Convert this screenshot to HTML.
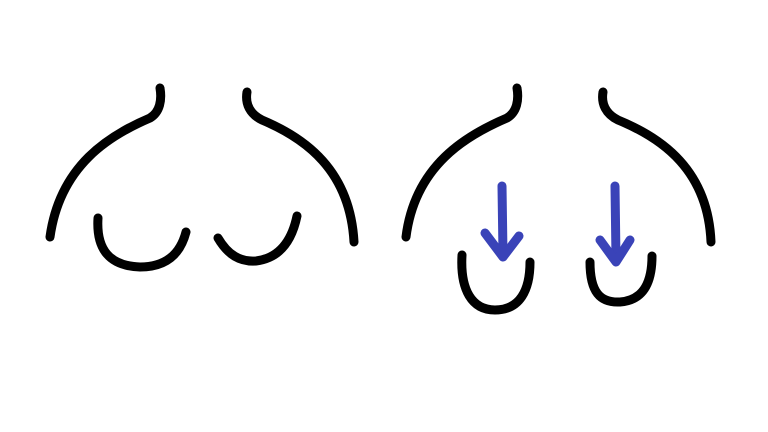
<!DOCTYPE html>
<html><head><meta charset="utf-8"><style>
html,body{margin:0;padding:0;background:#fff;width:768px;height:432px;overflow:hidden}
</style></head><body>
<svg width="768" height="432" viewBox="0 0 768 432" xmlns="http://www.w3.org/2000/svg">
<rect width="768" height="432" fill="#fff"/>
<g fill="none" stroke="#000" stroke-width="9" stroke-linecap="round" stroke-linejoin="round">
  <g>
    <path d="M160,88 C162,100 160,112 150,118 C110,135 60,165 50,237"/>
    <path d="M247,92 C245,104 250,114 262,120 C305,138 350,170 354,242"/>
    <path d="M98,218 C96,250 110,266 140,267 C165,267 180,255 186,232"/>
    <path d="M218,238 C228,255 240,262 256,261 C280,258 292,240 297,216"/>
  </g>
  <g>
    <path d="M517,88 C519,100 517,112 507,118 C467,135 415,165 406,237"/>
    <path d="M603,92 C601,104 606,114 618,120 C662,138 708,170 711,242"/>
    <path d="M462,255 C460,290 472,310 495,310 C520,310 530,290 530,262"/>
    <path d="M590,262 C590,292 600,303 620,302 C645,300 652,280 652,256"/>
  </g>
</g>
<g fill="none" stroke="#3a43b8" stroke-width="9" stroke-linecap="round" stroke-linejoin="round">
  <g>
    <path d="M502,186 L503,254"/>
    <path d="M485,233 L503,257 L519,236"/>
  </g>
  <g>
    <path d="M615,186 L616,258"/>
    <path d="M600,240 L616,262 L630,240"/>
  </g>
</g>
</svg>
</body></html>
